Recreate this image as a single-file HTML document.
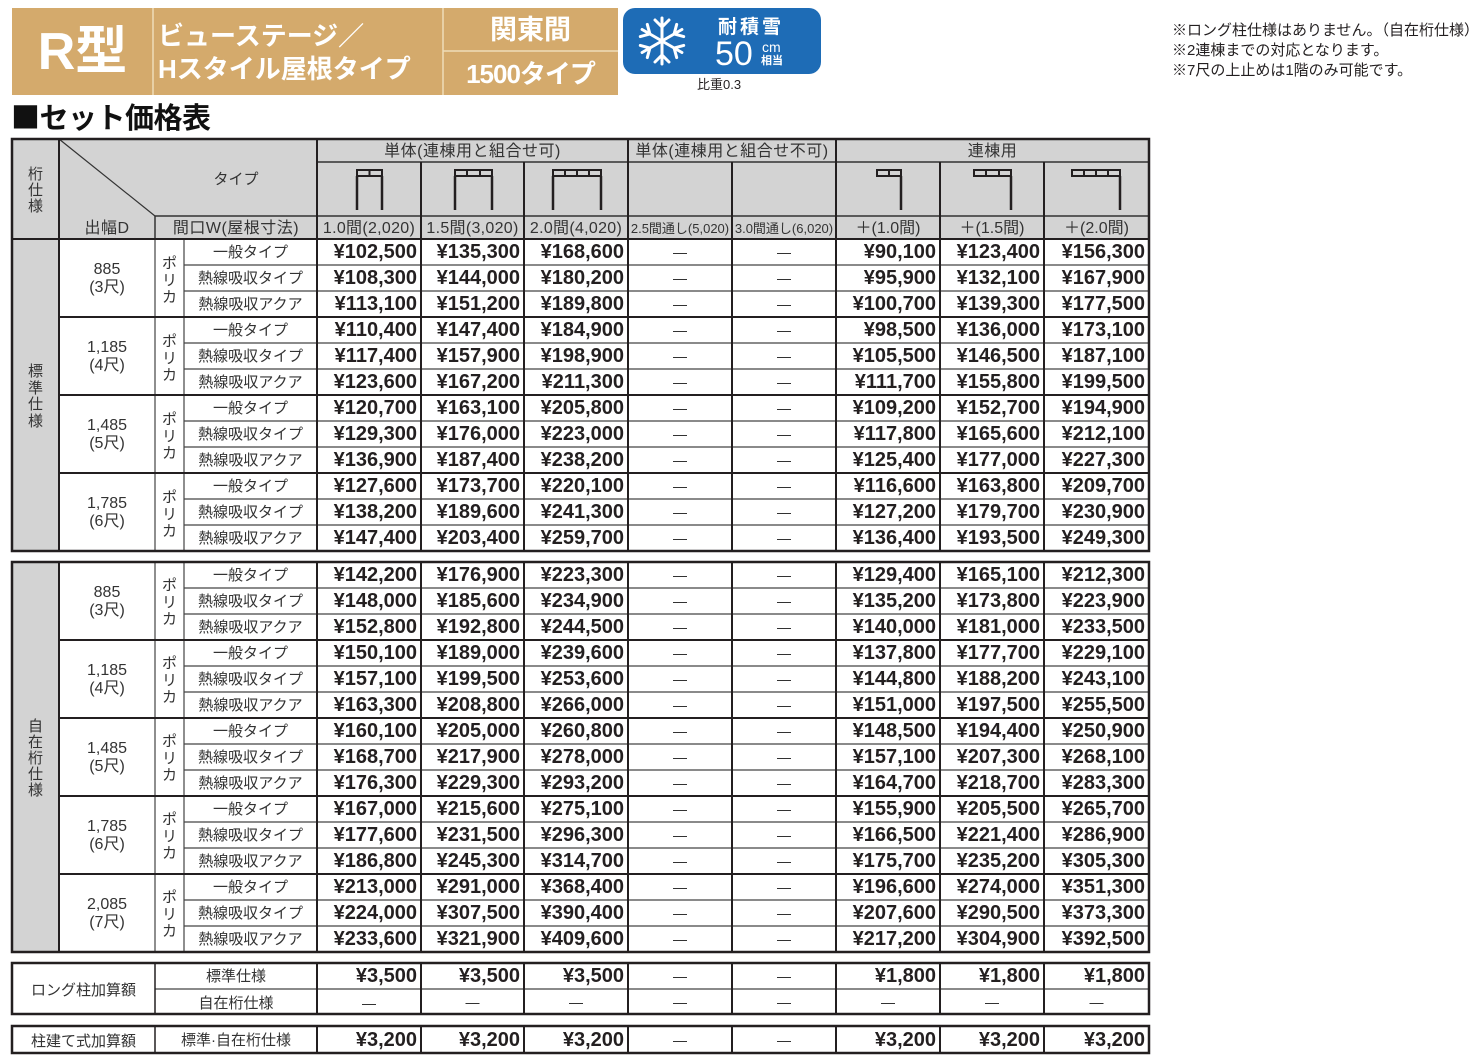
<!DOCTYPE html>
<html><head><meta charset="utf-8">
<style>
html,body{margin:0;padding:0;background:#fff;}
body{width:1474px;height:1064px;position:relative;overflow:hidden;font-family:"Liberation Sans","Noto Sans CJK JP",sans-serif;color:#231f20;}
.a{position:absolute;text-align:center;white-space:nowrap;color:#333;}
.w{position:absolute;white-space:nowrap;color:#fff;font-weight:bold;}
.v{position:absolute;text-align:center;color:#333;font-size:15px;}
.d{position:absolute;border-collapse:collapse;border-spacing:0;table-layout:fixed;}
.d td{height:25px;padding:1px 4px 0 0;text-align:right;font-weight:bold;font-size:20px;line-height:25px;color:#231f20;overflow:hidden;white-space:nowrap;}
.d td.t{text-align:center;font-weight:normal;font-size:15px;color:#333;padding:2px 0 0 0;height:24px;line-height:24px;}
.d td.n{text-align:center;font-weight:normal;font-size:14px;color:#222;padding:1px 0 0 0;}
.h1{font-size:16px;letter-spacing:0.5px;}
</style></head><body>
<svg width="1474" height="1064" style="position:absolute;left:0;top:0">
<rect x="12" y="8" width="606" height="87" fill="#d4aa6c"/>
<g stroke="#eedcb8" stroke-width="1.5">
<line x1="153" y1="8" x2="153" y2="95"/>
<line x1="443" y1="8" x2="443" y2="95"/>
<line x1="443" y1="51" x2="618" y2="51"/>
</g>
<rect x="623" y="8" width="198" height="66" rx="12" fill="#1e6cb6"/>
<g transform="translate(662,41)" stroke="#fff" stroke-width="3" stroke-linecap="round" fill="none">
<g><line x1="0" y1="0" x2="0" y2="-23"/><polyline points="-7,-21 0,-14 7,-21"/></g>
<g transform="rotate(60)"><line x1="0" y1="0" x2="0" y2="-23"/><polyline points="-7,-21 0,-14 7,-21"/></g>
<g transform="rotate(120)"><line x1="0" y1="0" x2="0" y2="-23"/><polyline points="-7,-21 0,-14 7,-21"/></g>
<g transform="rotate(180)"><line x1="0" y1="0" x2="0" y2="-23"/><polyline points="-7,-21 0,-14 7,-21"/></g>
<g transform="rotate(240)"><line x1="0" y1="0" x2="0" y2="-23"/><polyline points="-7,-21 0,-14 7,-21"/></g>
<g transform="rotate(300)"><line x1="0" y1="0" x2="0" y2="-23"/><polyline points="-7,-21 0,-14 7,-21"/></g>
</g>
<rect x="12" y="139" width="1137" height="100" fill="#d3d3d3"/>
<rect x="12" y="239" width="47" height="312" fill="#d3d3d3"/>
<rect x="12" y="562" width="47" height="390" fill="#d3d3d3"/>
<g stroke="#231f20" fill="none">
<g stroke-width="2">
<rect x="357" y="170" width="25" height="6"/><line x1="369.5" y1="170" x2="369.5" y2="176"/>
<rect x="455" y="170" width="37" height="6"/><line x1="467" y1="170" x2="467" y2="176"/><line x1="480" y1="170" x2="480" y2="176"/>
<rect x="553" y="170" width="48" height="6"/><line x1="565" y1="170" x2="565" y2="176"/><line x1="577" y1="170" x2="577" y2="176"/><line x1="589" y1="170" x2="589" y2="176"/>
<rect x="877" y="170" width="24" height="6"/><line x1="889" y1="170" x2="889" y2="176"/>
<rect x="974" y="170" width="37" height="6"/><line x1="986" y1="170" x2="986" y2="176"/><line x1="999" y1="170" x2="999" y2="176"/>
<rect x="1072" y="170" width="48" height="6"/><line x1="1084" y1="170" x2="1084" y2="176"/><line x1="1096" y1="170" x2="1096" y2="176"/><line x1="1108" y1="170" x2="1108" y2="176"/>
</g>
<g stroke-width="2.5">
<line x1="357" y1="176" x2="357" y2="210"/><line x1="382" y1="176" x2="382" y2="210"/>
<line x1="455" y1="176" x2="455" y2="210"/><line x1="492" y1="176" x2="492" y2="210"/>
<line x1="553" y1="176" x2="553" y2="210"/><line x1="601" y1="176" x2="601" y2="210"/>
<line x1="901" y1="176" x2="901" y2="210"/>
<line x1="1011" y1="176" x2="1011" y2="210"/>
<line x1="1120" y1="176" x2="1120" y2="210"/>
</g>
</g>
<g stroke="#333" stroke-width="1.5">
<line x1="317" y1="162" x2="1149" y2="162"/>
<line x1="155" y1="216" x2="1149" y2="216"/>
<line x1="155" y1="216" x2="155" y2="239"/>
<line x1="59" y1="139" x2="155" y2="216" stroke-width="1.2"/>
</g>
<g stroke="#444" stroke-width="1.2">
<line x1="184" y1="265" x2="1149" y2="265"/><line x1="184" y1="291" x2="1149" y2="291"/>
<line x1="184" y1="343" x2="1149" y2="343"/><line x1="184" y1="369" x2="1149" y2="369"/>
<line x1="184" y1="421" x2="1149" y2="421"/><line x1="184" y1="447" x2="1149" y2="447"/>
<line x1="184" y1="499" x2="1149" y2="499"/><line x1="184" y1="525" x2="1149" y2="525"/>
<line x1="155" y1="239" x2="155" y2="551"/><line x1="184" y1="239" x2="184" y2="551"/>
</g>
<g stroke="#231f20" stroke-width="2">
<line x1="12" y1="239" x2="1149" y2="239"/>
<line x1="59" y1="317" x2="1149" y2="317"/><line x1="59" y1="395" x2="1149" y2="395"/><line x1="59" y1="473" x2="1149" y2="473"/>
<line x1="59" y1="139" x2="59" y2="551"/>
<line x1="317" y1="139" x2="317" y2="551"/>
<line x1="421" y1="162" x2="421" y2="551"/>
<line x1="524" y1="162" x2="524" y2="551"/>
<line x1="628" y1="139" x2="628" y2="551"/>
<line x1="732" y1="162" x2="732" y2="551"/>
<line x1="836" y1="139" x2="836" y2="551"/>
<line x1="940" y1="162" x2="940" y2="551"/>
<line x1="1044" y1="162" x2="1044" y2="551"/>
<rect x="12" y="139" width="1137" height="412" fill="none" stroke-width="2.5"/>
</g>
<g stroke="#444" stroke-width="1.2">
<line x1="184" y1="588" x2="1149" y2="588"/><line x1="184" y1="614" x2="1149" y2="614"/>
<line x1="184" y1="666" x2="1149" y2="666"/><line x1="184" y1="692" x2="1149" y2="692"/>
<line x1="184" y1="744" x2="1149" y2="744"/><line x1="184" y1="770" x2="1149" y2="770"/>
<line x1="184" y1="822" x2="1149" y2="822"/><line x1="184" y1="848" x2="1149" y2="848"/>
<line x1="184" y1="900" x2="1149" y2="900"/><line x1="184" y1="926" x2="1149" y2="926"/>
<line x1="155" y1="562" x2="155" y2="952"/><line x1="184" y1="562" x2="184" y2="952"/>
</g>
<g stroke="#231f20" stroke-width="2">
<line x1="59" y1="640" x2="1149" y2="640"/><line x1="59" y1="718" x2="1149" y2="718"/>
<line x1="59" y1="796" x2="1149" y2="796"/><line x1="59" y1="874" x2="1149" y2="874"/>
<line x1="59" y1="562" x2="59" y2="952"/>
<line x1="317" y1="562" x2="317" y2="952"/>
<line x1="421" y1="562" x2="421" y2="952"/>
<line x1="524" y1="562" x2="524" y2="952"/>
<line x1="628" y1="562" x2="628" y2="952"/>
<line x1="732" y1="562" x2="732" y2="952"/>
<line x1="836" y1="562" x2="836" y2="952"/>
<line x1="940" y1="562" x2="940" y2="952"/>
<line x1="1044" y1="562" x2="1044" y2="952"/>
<rect x="12" y="562" width="1137" height="390" fill="none" stroke-width="2.5"/>
</g>
<g stroke="#444" stroke-width="1.2">
<line x1="155" y1="989" x2="1149" y2="989"/>
</g>
<g stroke="#231f20" stroke-width="2">
<line x1="155" y1="963" x2="155" y2="1014" stroke-width="1.5"/>
<line x1="317" y1="963" x2="317" y2="1014"/>
<line x1="421" y1="963" x2="421" y2="1014"/>
<line x1="524" y1="963" x2="524" y2="1014"/>
<line x1="628" y1="963" x2="628" y2="1014"/>
<line x1="732" y1="963" x2="732" y2="1014"/>
<line x1="836" y1="963" x2="836" y2="1014"/>
<line x1="940" y1="963" x2="940" y2="1014"/>
<line x1="1044" y1="963" x2="1044" y2="1014"/>
<rect x="12" y="963" width="1137" height="51" fill="none" stroke-width="2.5"/>
<line x1="155" y1="1026" x2="155" y2="1053" stroke-width="1.5"/>
<line x1="317" y1="1026" x2="317" y2="1053"/>
<line x1="421" y1="1026" x2="421" y2="1053"/>
<line x1="524" y1="1026" x2="524" y2="1053"/>
<line x1="628" y1="1026" x2="628" y2="1053"/>
<line x1="732" y1="1026" x2="732" y2="1053"/>
<line x1="836" y1="1026" x2="836" y2="1053"/>
<line x1="940" y1="1026" x2="940" y2="1053"/>
<line x1="1044" y1="1026" x2="1044" y2="1053"/>
<rect x="12" y="1026" width="1137" height="27" fill="none" stroke-width="2.5"/>
</g>
</svg>

<div class="w" style="left:12px;top:9px;width:141px;height:87px;line-height:87px;text-align:center;font-size:52px;">R型</div>
<div class="w" style="left:158px;top:21px;font-size:26px;line-height:30px;">ビューステージ／</div>
<div class="w" style="left:158px;top:54px;font-size:26px;line-height:30px;">Hスタイル屋根タイプ</div>
<div class="w" style="left:443px;top:9px;width:175px;height:43px;line-height:43px;text-align:center;font-size:27px;">関東間</div>
<div class="w" style="left:443px;top:52px;width:175px;height:44px;line-height:44px;text-align:center;font-size:26px;letter-spacing:-1px;">1500タイプ</div>
<div class="w" style="left:718px;top:17px;font-size:19px;line-height:22px;letter-spacing:3px;">耐積雪</div>
<div class="w" style="left:715px;top:37px;font-size:34px;line-height:34px;font-weight:normal;">50</div>
<div class="w" style="left:762px;top:41px;font-size:14px;line-height:13px;font-weight:normal;">cm</div>
<div class="w" style="left:761px;top:55px;font-size:11px;line-height:12px;">相当</div>
<div class="a" style="left:697px;top:77px;font-size:13px;line-height:16px;color:#231f20;text-align:left;">比重0.3</div>
<div style="position:absolute;left:11px;top:97px;font-size:29px;line-height:38px;font-weight:bold;color:#111;letter-spacing:-0.5px;white-space:nowrap;font-family:'Noto Sans CJK JP',sans-serif;">■セット価格表</div>
<div style="position:absolute;left:1172px;top:21px;font-size:15px;line-height:20px;color:#231f20;white-space:nowrap;">※ロング柱仕様はありません。（自在桁仕様）<br>※2連棟までの対応となります。<br>※7尺の上止めは1階のみ可能です。</div>

<div class="v" style="left:12px;top:167px;width:47px;line-height:16px;">桁<br>仕<br>様</div>
<div class="a" style="left:180px;top:170px;width:112px;font-size:15px;line-height:20px;">タイプ</div>
<div class="a h1" style="left:59px;top:217px;width:96px;line-height:23px;">出幅D</div>
<div class="a h1" style="left:155px;top:217px;width:162px;line-height:23px;">間口W(屋根寸法)</div>
<div class="a h1" style="left:317px;top:140px;width:311px;line-height:23px;">単体(連棟用と組合せ可)</div>
<div class="a h1" style="left:628px;top:140px;width:208px;line-height:23px;">単体(連棟用と組合せ不可)</div>
<div class="a h1" style="left:836px;top:140px;width:313px;line-height:23px;">連棟用</div>
<div class="a" style="left:317px;top:217px;width:104px;line-height:23px;font-size:16px;letter-spacing:0.3px;">1.0間(2,020)</div>
<div class="a" style="left:421px;top:217px;width:103px;line-height:23px;font-size:16px;letter-spacing:0.3px;">1.5間(3,020)</div>
<div class="a" style="left:524px;top:217px;width:104px;line-height:23px;font-size:16px;letter-spacing:0.3px;">2.0間(4,020)</div>
<div class="a" style="left:628px;top:217px;width:104px;line-height:23px;font-size:13px;">2.5間通し(5,020)</div>
<div class="a" style="left:732px;top:217px;width:104px;line-height:23px;font-size:13px;">3.0間通し(6,020)</div>
<div class="a" style="left:836px;top:217px;width:104px;line-height:23px;font-size:16px;">＋(1.0間)</div>
<div class="a" style="left:940px;top:217px;width:104px;line-height:23px;font-size:16px;">＋(1.5間)</div>
<div class="a" style="left:1044px;top:217px;width:105px;line-height:23px;font-size:16px;">＋(2.0間)</div>

<div class="v" style="left:12px;top:364px;width:47px;line-height:16.5px;">標<br>準<br>仕<br>様</div>
<div class="v" style="left:12px;top:719px;width:47px;line-height:16px;">自<br>在<br>桁<br>仕<br>様</div>

<div class="a" style="left:59px;top:261px;width:96px;font-size:16px;line-height:18px;">885<br>(3尺)</div>
<div class="a" style="left:59px;top:339px;width:96px;font-size:16px;line-height:18px;">1,185<br>(4尺)</div>
<div class="a" style="left:59px;top:417px;width:96px;font-size:16px;line-height:18px;">1,485<br>(5尺)</div>
<div class="a" style="left:59px;top:495px;width:96px;font-size:16px;line-height:18px;">1,785<br>(6尺)</div>
<div class="v" style="left:155px;top:255px;width:29px;line-height:17px;">ポ<br>リ<br>カ</div>
<div class="v" style="left:155px;top:333px;width:29px;line-height:17px;">ポ<br>リ<br>カ</div>
<div class="v" style="left:155px;top:411px;width:29px;line-height:17px;">ポ<br>リ<br>カ</div>
<div class="v" style="left:155px;top:489px;width:29px;line-height:17px;">ポ<br>リ<br>カ</div>
<div class="a" style="left:59px;top:584px;width:96px;font-size:16px;line-height:18px;">885<br>(3尺)</div>
<div class="a" style="left:59px;top:662px;width:96px;font-size:16px;line-height:18px;">1,185<br>(4尺)</div>
<div class="a" style="left:59px;top:740px;width:96px;font-size:16px;line-height:18px;">1,485<br>(5尺)</div>
<div class="a" style="left:59px;top:818px;width:96px;font-size:16px;line-height:18px;">1,785<br>(6尺)</div>
<div class="a" style="left:59px;top:896px;width:96px;font-size:16px;line-height:18px;">2,085<br>(7尺)</div>
<div class="v" style="left:155px;top:577px;width:29px;line-height:17px;">ポ<br>リ<br>カ</div>
<div class="v" style="left:155px;top:655px;width:29px;line-height:17px;">ポ<br>リ<br>カ</div>
<div class="v" style="left:155px;top:733px;width:29px;line-height:17px;">ポ<br>リ<br>カ</div>
<div class="v" style="left:155px;top:811px;width:29px;line-height:17px;">ポ<br>リ<br>カ</div>
<div class="v" style="left:155px;top:889px;width:29px;line-height:17px;">ポ<br>リ<br>カ</div>

<table class="d" style="left:184px;top:239px;width:965px;">
<colgroup><col style="width:133px"><col style="width:104px"><col style="width:103px"><col style="width:104px"><col style="width:104px"><col style="width:104px"><col style="width:104px"><col style="width:104px"><col style="width:105px"></colgroup>
<tr><td class="t">一般タイプ</td><td>¥102,500</td><td>¥135,300</td><td>¥168,600</td><td class="n">—</td><td class="n">—</td><td>¥90,100</td><td>¥123,400</td><td>¥156,300</td></tr>
<tr><td class="t">熱線吸収タイプ</td><td>¥108,300</td><td>¥144,000</td><td>¥180,200</td><td class="n">—</td><td class="n">—</td><td>¥95,900</td><td>¥132,100</td><td>¥167,900</td></tr>
<tr><td class="t">熱線吸収アクア</td><td>¥113,100</td><td>¥151,200</td><td>¥189,800</td><td class="n">—</td><td class="n">—</td><td>¥100,700</td><td>¥139,300</td><td>¥177,500</td></tr>
<tr><td class="t">一般タイプ</td><td>¥110,400</td><td>¥147,400</td><td>¥184,900</td><td class="n">—</td><td class="n">—</td><td>¥98,500</td><td>¥136,000</td><td>¥173,100</td></tr>
<tr><td class="t">熱線吸収タイプ</td><td>¥117,400</td><td>¥157,900</td><td>¥198,900</td><td class="n">—</td><td class="n">—</td><td>¥105,500</td><td>¥146,500</td><td>¥187,100</td></tr>
<tr><td class="t">熱線吸収アクア</td><td>¥123,600</td><td>¥167,200</td><td>¥211,300</td><td class="n">—</td><td class="n">—</td><td>¥111,700</td><td>¥155,800</td><td>¥199,500</td></tr>
<tr><td class="t">一般タイプ</td><td>¥120,700</td><td>¥163,100</td><td>¥205,800</td><td class="n">—</td><td class="n">—</td><td>¥109,200</td><td>¥152,700</td><td>¥194,900</td></tr>
<tr><td class="t">熱線吸収タイプ</td><td>¥129,300</td><td>¥176,000</td><td>¥223,000</td><td class="n">—</td><td class="n">—</td><td>¥117,800</td><td>¥165,600</td><td>¥212,100</td></tr>
<tr><td class="t">熱線吸収アクア</td><td>¥136,900</td><td>¥187,400</td><td>¥238,200</td><td class="n">—</td><td class="n">—</td><td>¥125,400</td><td>¥177,000</td><td>¥227,300</td></tr>
<tr><td class="t">一般タイプ</td><td>¥127,600</td><td>¥173,700</td><td>¥220,100</td><td class="n">—</td><td class="n">—</td><td>¥116,600</td><td>¥163,800</td><td>¥209,700</td></tr>
<tr><td class="t">熱線吸収タイプ</td><td>¥138,200</td><td>¥189,600</td><td>¥241,300</td><td class="n">—</td><td class="n">—</td><td>¥127,200</td><td>¥179,700</td><td>¥230,900</td></tr>
<tr><td class="t">熱線吸収アクア</td><td>¥147,400</td><td>¥203,400</td><td>¥259,700</td><td class="n">—</td><td class="n">—</td><td>¥136,400</td><td>¥193,500</td><td>¥249,300</td></tr>
</table>

<table class="d" style="left:184px;top:562px;width:965px;">
<colgroup><col style="width:133px"><col style="width:104px"><col style="width:103px"><col style="width:104px"><col style="width:104px"><col style="width:104px"><col style="width:104px"><col style="width:104px"><col style="width:105px"></colgroup>
<tr><td class="t">一般タイプ</td><td>¥142,200</td><td>¥176,900</td><td>¥223,300</td><td class="n">—</td><td class="n">—</td><td>¥129,400</td><td>¥165,100</td><td>¥212,300</td></tr>
<tr><td class="t">熱線吸収タイプ</td><td>¥148,000</td><td>¥185,600</td><td>¥234,900</td><td class="n">—</td><td class="n">—</td><td>¥135,200</td><td>¥173,800</td><td>¥223,900</td></tr>
<tr><td class="t">熱線吸収アクア</td><td>¥152,800</td><td>¥192,800</td><td>¥244,500</td><td class="n">—</td><td class="n">—</td><td>¥140,000</td><td>¥181,000</td><td>¥233,500</td></tr>
<tr><td class="t">一般タイプ</td><td>¥150,100</td><td>¥189,000</td><td>¥239,600</td><td class="n">—</td><td class="n">—</td><td>¥137,800</td><td>¥177,700</td><td>¥229,100</td></tr>
<tr><td class="t">熱線吸収タイプ</td><td>¥157,100</td><td>¥199,500</td><td>¥253,600</td><td class="n">—</td><td class="n">—</td><td>¥144,800</td><td>¥188,200</td><td>¥243,100</td></tr>
<tr><td class="t">熱線吸収アクア</td><td>¥163,300</td><td>¥208,800</td><td>¥266,000</td><td class="n">—</td><td class="n">—</td><td>¥151,000</td><td>¥197,500</td><td>¥255,500</td></tr>
<tr><td class="t">一般タイプ</td><td>¥160,100</td><td>¥205,000</td><td>¥260,800</td><td class="n">—</td><td class="n">—</td><td>¥148,500</td><td>¥194,400</td><td>¥250,900</td></tr>
<tr><td class="t">熱線吸収タイプ</td><td>¥168,700</td><td>¥217,900</td><td>¥278,000</td><td class="n">—</td><td class="n">—</td><td>¥157,100</td><td>¥207,300</td><td>¥268,100</td></tr>
<tr><td class="t">熱線吸収アクア</td><td>¥176,300</td><td>¥229,300</td><td>¥293,200</td><td class="n">—</td><td class="n">—</td><td>¥164,700</td><td>¥218,700</td><td>¥283,300</td></tr>
<tr><td class="t">一般タイプ</td><td>¥167,000</td><td>¥215,600</td><td>¥275,100</td><td class="n">—</td><td class="n">—</td><td>¥155,900</td><td>¥205,500</td><td>¥265,700</td></tr>
<tr><td class="t">熱線吸収タイプ</td><td>¥177,600</td><td>¥231,500</td><td>¥296,300</td><td class="n">—</td><td class="n">—</td><td>¥166,500</td><td>¥221,400</td><td>¥286,900</td></tr>
<tr><td class="t">熱線吸収アクア</td><td>¥186,800</td><td>¥245,300</td><td>¥314,700</td><td class="n">—</td><td class="n">—</td><td>¥175,700</td><td>¥235,200</td><td>¥305,300</td></tr>
<tr><td class="t">一般タイプ</td><td>¥213,000</td><td>¥291,000</td><td>¥368,400</td><td class="n">—</td><td class="n">—</td><td>¥196,600</td><td>¥274,000</td><td>¥351,300</td></tr>
<tr><td class="t">熱線吸収タイプ</td><td>¥224,000</td><td>¥307,500</td><td>¥390,400</td><td class="n">—</td><td class="n">—</td><td>¥207,600</td><td>¥290,500</td><td>¥373,300</td></tr>
<tr><td class="t">熱線吸収アクア</td><td>¥233,600</td><td>¥321,900</td><td>¥409,600</td><td class="n">—</td><td class="n">—</td><td>¥217,200</td><td>¥304,900</td><td>¥392,500</td></tr>
</table>

<div class="a" style="left:12px;top:965px;width:143px;height:51px;line-height:51px;font-size:15px;">ロング柱加算額</div>
<table class="d" style="left:155px;top:963px;width:994px;">
<colgroup><col style="width:162px"><col style="width:104px"><col style="width:103px"><col style="width:104px"><col style="width:104px"><col style="width:104px"><col style="width:104px"><col style="width:104px"><col style="width:105px"></colgroup>
<tr><td class="t">標準仕様</td><td>¥3,500</td><td>¥3,500</td><td>¥3,500</td><td class="n">—</td><td class="n">—</td><td>¥1,800</td><td>¥1,800</td><td>¥1,800</td></tr>
<tr><td class="t" style="height:23px;line-height:23px;">自在桁仕様</td><td class="n" style="height:24px;line-height:24px;">—</td><td class="n">—</td><td class="n">—</td><td class="n">—</td><td class="n">—</td><td class="n">—</td><td class="n">—</td><td class="n">—</td></tr>
</table>

<div class="a" style="left:12px;top:1028px;width:143px;height:27px;line-height:27px;font-size:15px;">柱建て式加算額</div>
<table class="d" style="left:155px;top:1026px;width:994px;">
<colgroup><col style="width:162px"><col style="width:104px"><col style="width:103px"><col style="width:104px"><col style="width:104px"><col style="width:104px"><col style="width:104px"><col style="width:104px"><col style="width:105px"></colgroup>
<tr><td class="t" style="height:25px;line-height:25px;">標準·自在桁仕様</td><td style="height:26px;line-height:26px;">¥3,200</td><td>¥3,200</td><td>¥3,200</td><td class="n">—</td><td class="n">—</td><td>¥3,200</td><td>¥3,200</td><td>¥3,200</td></tr>
</table>
</body></html>
